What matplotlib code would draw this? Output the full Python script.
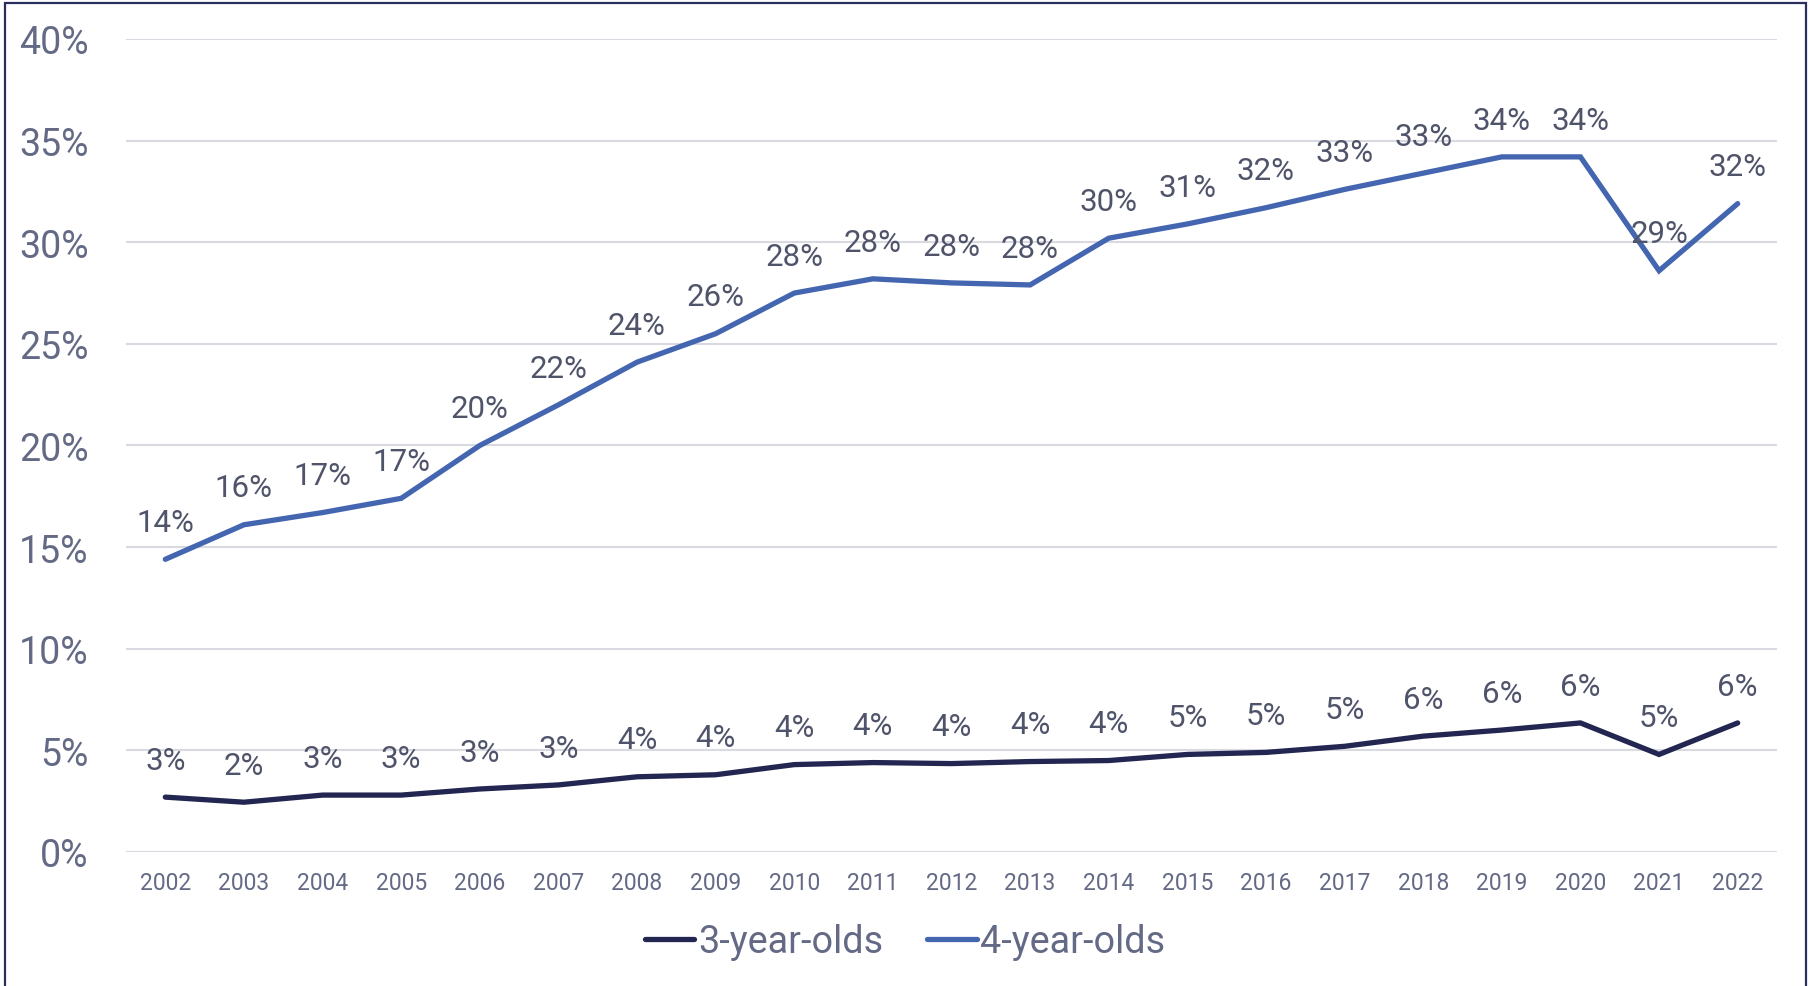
import matplotlib.pyplot as plt
from matplotlib.patches import Rectangle
from matplotlib.ticker import PercentFormatter

plt.rcParams['font.family'] = ['Roboto', 'DejaVu Sans']

years = [str(y) for y in range(2002, 2023)]
three_year = [2.7, 2.45, 2.8, 2.8, 3.1, 3.3, 3.7, 3.8, 4.3, 4.4, 4.35, 4.45,
              4.5, 4.8, 4.9, 5.2, 5.7, 6.0, 6.35, 4.8, 6.35]
four_year = [14.4, 16.1, 16.7, 17.4, 20.0, 22.0, 24.1, 25.5, 27.5, 28.2, 28.0,
             27.9, 30.2, 30.9, 31.7, 32.6, 33.4, 34.2, 34.2, 28.6, 31.9]

c3 = '#222650'
c4 = '#4466b0'
tick_col = '#646a85'
lab_col = '#50546a'

fig = plt.figure(figsize=(18.1, 9.87), dpi=100)
ax = fig.add_axes([126 / 1810, 1 - 853 / 987, (1777 - 126) / 1810, (853 - 40) / 987])

x = range(len(years))
ax.plot(x, three_year, color=c3, lw=3.8, solid_capstyle='round',
        solid_joinstyle='miter', label='3-year-olds', clip_on=False, zorder=3)
ax.plot(x, four_year, color=c4, lw=3.8, solid_capstyle='round',
        solid_joinstyle='miter', label='4-year-olds', clip_on=False, zorder=3)

for series in (three_year, four_year):
    for i, v in enumerate(series):
        ax.annotate(f'{round(v)}%', (i, v), xytext=(0, 26.5), textcoords='offset points',
                    ha='center', va='center', fontsize=22.5, color=lab_col, zorder=4)

ax.set_xlim(-0.5, len(years) - 0.5)
ax.set_ylim(0, 40)
ax.set_yticks(range(0, 41, 5))
ax.yaxis.set_major_formatter(PercentFormatter(decimals=0))
ax.set_xticks(list(x))
ax.set_xticklabels(years)
ax.tick_params(axis='y', length=0, pad=27, labelsize=27, labelcolor=tick_col)
ax.tick_params(axis='x', length=0, pad=14, labelsize=16.5, labelcolor=tick_col)
ax.grid(axis='y', color='#d9d9e1', lw=1.5)
ax.set_axisbelow(True)
for s in ax.spines.values():
    s.set_visible(False)

leg = fig.legend(loc='center', bbox_to_anchor=(0.5, 1 - 943 / 987), ncol=2,
                 frameon=False, fontsize=27.2, handlelength=1.32, handletextpad=0.1,
                 columnspacing=1.15)
for t in leg.get_texts():
    t.set_color(tick_col)

fig.patches.append(Rectangle((5 / 1810, -0.05), 1801 / 1810, 1.05 - 4 / 987,
                             transform=fig.transFigure, fill=False,
                             edgecolor='#2b2f5c', lw=1.6))

fig.savefig('out.png', dpi=100)
